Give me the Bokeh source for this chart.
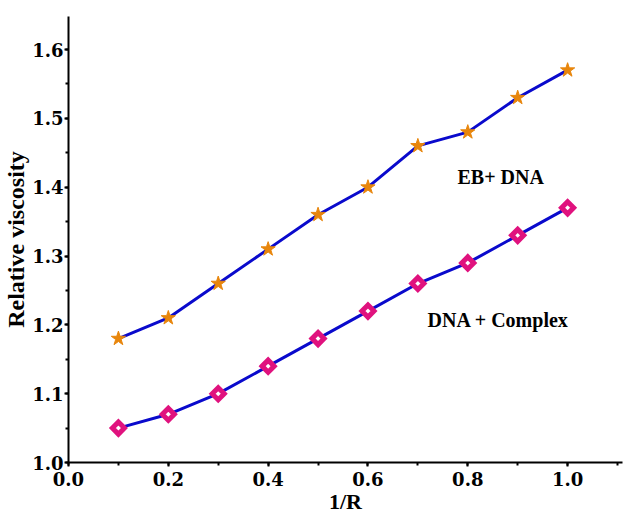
import math
from bokeh.plotting import figure
from bokeh.models import SingleIntervalTicker, Range1d, Label, PrintfTickFormatter
from bokeh.embed import file_html
from bokeh.resources import INLINE

x = [0.1, 0.2, 0.3, 0.4, 0.5, 0.6, 0.7, 0.8, 0.9, 1.0]
eb_dna = [1.18, 1.21, 1.26, 1.31, 1.36, 1.40, 1.46, 1.48, 1.53, 1.57]
dna_complex = [1.05, 1.07, 1.10, 1.14, 1.18, 1.22, 1.26, 1.29, 1.33, 1.37]

FONT = "Liberation Serif"
TICK_FONT = "DejaVu Serif"

p = figure(width=623, height=516, output_backend="svg", toolbar_location=None,
           x_range=Range1d(0, 1.11), y_range=Range1d(1.0, 1.648),
           min_border_left=68, min_border_right=1, min_border_top=16, min_border_bottom=53)
p.outline_line_color = None
p.xgrid.visible = False
p.ygrid.visible = False
p.background_fill_color = "white"

p.line(x, eb_dna, line_color="#0A0ACC", line_width=3)
p.line(x, dna_complex, line_color="#0A0ACC", line_width=3)
p.scatter(x, eb_dna, marker="star", size=15, fill_color="#E8860C", line_color="#E8860C", line_width=1)
p.scatter(x, dna_complex, marker="square", angle=math.pi / 4, size=8.5,
          fill_color="white", line_color="#E0127E", line_width=5, line_join="miter")

p.xaxis.ticker = SingleIntervalTicker(interval=0.2, num_minor_ticks=2)
p.yaxis.ticker = SingleIntervalTicker(interval=0.1, num_minor_ticks=2)
p.xaxis.formatter = PrintfTickFormatter(format="%.1f")
p.yaxis.formatter = PrintfTickFormatter(format="%.1f")
for ax in (p.xaxis[0], p.yaxis[0]):
    ax.axis_line_width = 2
    ax.axis_line_color = "black"
    ax.major_tick_line_width = 2
    ax.minor_tick_line_width = 2
    ax.major_tick_out = 4
    ax.major_tick_in = 0
    ax.minor_tick_out = 3
    ax.minor_tick_in = 0
    ax.major_label_text_font = TICK_FONT
    ax.major_label_text_font_style = "bold"
    ax.major_label_text_font_size = "18px"
    ax.major_label_text_color = "black"
    ax.axis_label_text_font = FONT
    ax.axis_label_text_font_style = "bold"
    ax.axis_label_text_color = "black"
p.xaxis.axis_label = "1/R"
p.yaxis.axis_label = "Relative viscosity"
p.xaxis.axis_label_text_font_size = "22px"
p.yaxis.axis_label_text_font_size = "24px"
p.xaxis.axis_label_standoff = 0
p.yaxis.axis_label_standoff = 0
p.xaxis.major_label_standoff = 5
p.yaxis.major_label_standoff = 1

p.add_layout(Label(x=0.866, y=1.415, text="EB+ DNA", text_font=FONT, text_font_style="bold",
                   text_font_size="20px", text_align="center", text_baseline="middle",
                   text_color="black"))
p.add_layout(Label(x=0.861, y=1.207, text="DNA + Complex", text_font=FONT, text_font_style="bold",
                   text_font_size="20px", text_align="center", text_baseline="middle",
                   text_color="black"))

open("out.html", "w").write(file_html(p, INLINE))
